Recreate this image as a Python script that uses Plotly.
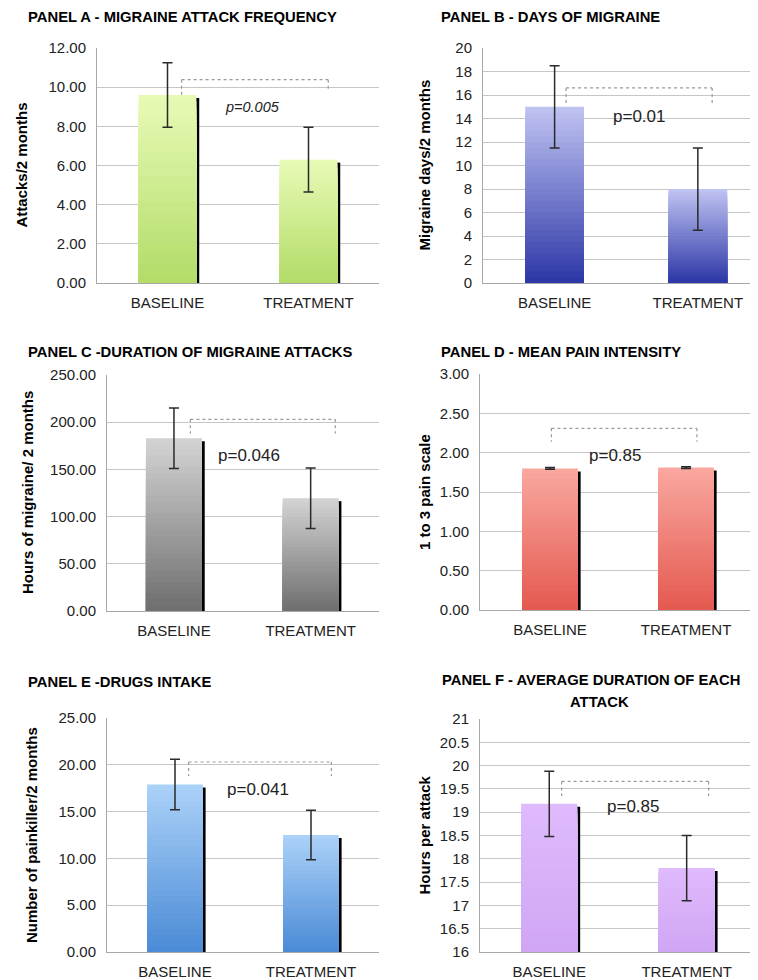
import plotly.graph_objects as go

# ---------------- data ----------------
categories = ["BASELINE", "TREATMENT"]

a_means = [9.6, 6.3]
a_errs = [1.65, 1.65]
b_means = [15.0, 8.0]
b_errs = [3.5, 3.5]
c_means = [183.0, 119.5]
c_errs = [32.0, 32.0]
d_means = [1.80, 1.81]
d_errs = [0.01, 0.01]
e_means = [17.9, 12.5]
e_errs = [2.7, 2.65]
f_means = [19.18, 17.8]
f_errs = [0.7, 0.7]

p_values = ["p=0.005", "p=0.01", "p=0.046", "p=0.85", "p=0.041", "p=0.85"]

titles = [
    "PANEL A - MIGRAINE ATTACK FREQUENCY",
    "PANEL B - DAYS OF MIGRAINE",
    "PANEL C -DURATION OF MIGRAINE ATTACKS",
    "PANEL D - MEAN PAIN INTENSITY",
    "PANEL E -DRUGS INTAKE",
    "PANEL F - AVERAGE DURATION OF EACH",
]
y_titles = [
    "Attacks/2 months",
    "Migraine days/2 months",
    "Hours of migraine/ 2 months",
    "1 to 3 pain scale",
    "Number of painkiller/2 months",
    "Hours per attack",
]

# ---------------- layout / style ----------------
# the page body adds an 8px margin, so the figure is 8px smaller and all
# pixel positions (measured on the reference) are shifted by that offset
OFF = 8
FW, FH = 758 - OFF, 980 - OFF
FONT = "Liberation Sans, Arial, sans-serif"


def fx(p):
    return min(1.0, (p - OFF) / FW)


def fy(p):
    return 1 - (p - OFF) / FH


def hex2rgb(h):
    h = h.lstrip("#")
    return tuple(int(h[i:i + 2], 16) for i in (0, 2, 4))


def mix(c_bottom, c_top, t):
    a, b = hex2rgb(c_bottom), hex2rgb(c_top)
    return "rgb(%d,%d,%d)" % tuple(round(a[j] + (b[j] - a[j]) * t) for j in range(3))


panels = [
    dict(means=a_means, errs=a_errs, top="#e8fab6", bottom="#b2dc68", shadow=True,
         dom_x=(97, 379), dom_y=(48, 283), xr=(-0.5, 1.5), yr=(0, 12), dtick=2, fmt=".2f",
         title_xy=(26, 17), ytitle_x=21,
         br=(0.10, 1.14, 10.38, 9.5, 9.9), p_xy=(0.60, 9.0), p_italic=True, p_size=14.5),
    dict(means=b_means, errs=b_errs, top="#c0c4f2", bottom="#2c36a6", shadow=False,
         dom_x=(483, 758), dom_y=(48, 283), xr=(-0.5, 1.42), yr=(0, 20), dtick=2, fmt="d",
         title_xy=(439, 17), ytitle_x=424,
         br=(0.08, 1.10, 16.6, 15.3, 15.3), p_xy=(0.59, 14.2), p_italic=False, p_size=17),
    dict(means=c_means, errs=c_errs, top="#d4d4d4", bottom="#6e6e6e", shadow=True,
         dom_x=(107, 379), dom_y=(375, 611), xr=(-0.49, 1.5), yr=(0, 250), dtick=50, fmt=".2f",
         title_xy=(26, 352), ytitle_x=28,
         br=(0.12, 1.18, 203, 188, 188), p_xy=(0.55, 165), p_italic=False, p_size=17),
    dict(means=d_means, errs=d_errs, top="#f9a8a0", bottom="#e4594f", shadow=True,
         dom_x=(480, 752), dom_y=(374, 610), xr=(-0.515, 1.485), yr=(0, 3), dtick=0.5, fmt=".2f",
         title_xy=(439, 352), ytitle_x=424,
         br=(0.01, 1.08, 2.31, 2.14, 2.14), p_xy=(0.48, 1.97), p_italic=False, p_size=17),
    dict(means=e_means, errs=e_errs, top="#acd2f8", bottom="#4a8ad6", shadow=True,
         dom_x=(107, 379), dom_y=(718, 952), xr=(-0.5, 1.5), yr=(0, 25), dtick=5, fmt=".2f",
         title_xy=(26, 682), ytitle_x=31,
         br=(0.10, 1.15, 20.3, 18.8, 18.8), p_xy=(0.61, 17.4), p_italic=False, p_size=17),
    dict(means=f_means, errs=f_errs, top="#dfbafc", bottom="#d0a6f4", shadow=True,
         dom_x=(480, 754), dom_y=(719, 952), xr=(-0.504, 1.49), yr=(16, 21), dtick=0.5, fmt="",
         title_xy=(591, 680), ytitle_x=424,
         br=(0.09, 1.16, 19.66, 19.35, 19.35), p_xy=(0.61, 19.12), p_italic=False, p_size=17),
]

N_BANDS = 30
BAR_W = 0.41

fig = go.Figure()
annotations = []
shapes = []
layout_axes = {}

for i, p in enumerate(panels, start=1):
    sx = "" if i == 1 else str(i)
    xref, yref = "x" + sx, "y" + sx
    y0, y1 = p["yr"]
    plot_h = p["dom_y"][1] - p["dom_y"][0]
    dy = 3 * (y1 - y0) / plot_h  # shadow drop ~3px
    means = p["means"]

    # black drop shadow on the right side of each bar
    if p["shadow"]:
        fig.add_trace(go.Bar(
            x=[0, 1], y=[m - dy for m in means], width=0.04, offset=0.185,
            marker=dict(color="#000000", line=dict(width=0)),
            xaxis=xref, yaxis=yref, hoverinfo="skip", showlegend=False))

    # vertical colour gradient: nested bars from the axis floor, tallest (lightest) first
    for k in range(N_BANDS - 1, -1, -1):
        frac = (k + 1) / N_BANDS
        fig.add_trace(go.Bar(
            x=[0, 1], y=[(m - y0) * frac for m in means], base=[y0, y0], width=BAR_W,
            marker=dict(color=mix(p["bottom"], p["top"], (k + 0.5) / N_BANDS), line=dict(width=0)),
            xaxis=xref, yaxis=yref, hoverinfo="skip", showlegend=False))

    # the data bar itself (transparent fill, carries the error bars)
    fig.add_trace(go.Bar(
        x=[0, 1], y=means, width=BAR_W, name=titles[i - 1],
        marker=dict(color="rgba(0,0,0,0)", line=dict(width=0)),
        error_y=dict(type="data", array=p["errs"], visible=True,
                     color="#2a2a2a", thickness=1.5, width=5),
        xaxis=xref, yaxis=yref, showlegend=False))

    layout_axes["xaxis" + sx] = dict(
        domain=[fx(p["dom_x"][0]), fx(p["dom_x"][1])], anchor=yref,
        range=list(p["xr"]), tickvals=[0, 1], ticktext=categories,
        showgrid=False, zeroline=False, showline=True, linecolor="#a8a8a8", linewidth=1,
        ticks="", ticklabelstandoff=6, fixedrange=True, automargin=False,
        tickfont=dict(family=FONT, size=15, color="#222222"))
    layout_axes["yaxis" + sx] = dict(
        domain=[fy(p["dom_y"][1]), fy(p["dom_y"][0])], anchor=xref,
        range=[y0, y1], dtick=p["dtick"], tick0=y0, tickformat=p["fmt"],
        showgrid=True, gridcolor="#c6c6c6", gridwidth=1, zeroline=False,
        showline=True, linecolor="#a8a8a8", linewidth=1,
        ticks="", ticklabelstandoff=7, fixedrange=True, automargin=False,
        tickfont=dict(family=FONT, size=15, color="#222222"))

    # significance bracket (dotted)
    lx, rx, by, lb, rb = p["br"]
    line_style = dict(color="#9a9a9a", width=1.2, dash="dot")
    shapes.append(dict(type="line", xref=xref, yref=yref, x0=lx, x1=rx, y0=by, y1=by, line=line_style))
    shapes.append(dict(type="line", xref=xref, yref=yref, x0=lx, x1=lx, y0=by, y1=lb, line=line_style))
    shapes.append(dict(type="line", xref=xref, yref=yref, x0=rx, x1=rx, y0=by, y1=rb, line=line_style))

    # p-value
    ptxt = "<i>%s</i>" % p_values[i - 1] if p["p_italic"] else p_values[i - 1]
    annotations.append(dict(text=ptxt, xref=xref, yref=yref, x=p["p_xy"][0], y=p["p_xy"][1],
                            showarrow=False, xanchor="center", yanchor="middle",
                            font=dict(family=FONT, size=p["p_size"], color="#222222")))

    # panel title
    tx, ty = p["title_xy"]
    tfont = dict(family=FONT, size=14.8, color="#000000")
    if i == 6:
        annotations.append(dict(text="<b>%s</b>" % titles[i - 1], xref="paper", yref="paper",
                                x=fx(tx), y=fy(ty), showarrow=False, xanchor="center", yanchor="middle",
                                font=tfont))
        annotations.append(dict(text="<b>ATTACK</b>", xref="paper", yref="paper",
                                x=fx(599), y=fy(702), showarrow=False, xanchor="center", yanchor="middle",
                                font=tfont))
    else:
        annotations.append(dict(text="<b>%s</b>" % titles[i - 1], xref="paper", yref="paper",
                                x=fx(tx), y=fy(ty), showarrow=False, xanchor="left", yanchor="middle",
                                font=tfont))

    # y-axis title
    ymid = (p["dom_y"][0] + p["dom_y"][1]) / 2
    annotations.append(dict(text="<b>%s</b>" % y_titles[i - 1], xref="paper", yref="paper",
                            x=fx(p["ytitle_x"]), y=fy(ymid), showarrow=False, textangle=-90,
                            xanchor="center", yanchor="middle",
                            font=dict(family=FONT, size=15, color="#000000")))

fig.update_layout(
    width=FW, height=FH,
    margin=dict(l=0, r=0, t=0, b=0, autoexpand=False),
    paper_bgcolor="white", plot_bgcolor="white",
    barmode="overlay",
    showlegend=False,
    annotations=annotations,
    shapes=shapes,
    font=dict(family=FONT),
    **layout_axes,
)

fig.write_html("out.html")
